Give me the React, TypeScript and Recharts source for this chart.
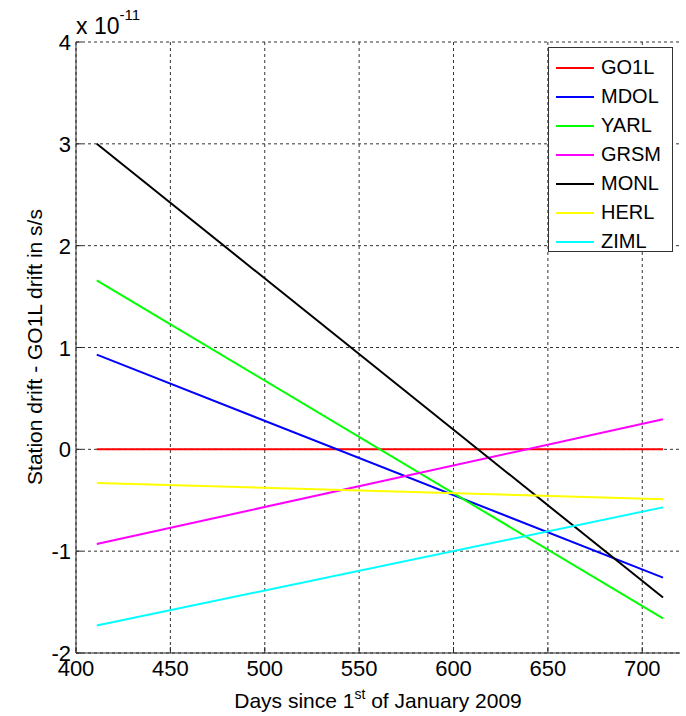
import { LineChart, Line, XAxis, YAxis, CartesianGrid, Legend } from 'recharts'

// values in units of 1e-11 s/s
const days = [411, 711]
const GO1L = [0, 0]
const MDOL = [0.93, -1.26]
const YARL = [1.66, -1.66]
const GRSM = [-0.93, 0.295]
const MONL = [3.0, -1.455]
const HERL = [-0.33, -0.49]
const ZIML = [-1.73, -0.57]

const xTicks = [400, 450, 500, 550, 600, 650, 700]
const yTicks = [-2, -1, 0, 1, 2, 3, 4]

const series = [
  { name: 'GO1L', values: GO1L, color: '#ff0000' },
  { name: 'MDOL', values: MDOL, color: '#0000ff' },
  { name: 'YARL', values: YARL, color: '#00ff00' },
  { name: 'GRSM', values: GRSM, color: '#ff00ff' },
  { name: 'MONL', values: MONL, color: '#000000' },
  { name: 'HERL', values: HERL, color: '#ffff00' },
  { name: 'ZIML', values: ZIML, color: '#00ffff' },
]

const data = days.map((day, i) => {
  const row: any = { day }
  series.forEach(s => { row[s.name] = s.values[i] })
  return row
})

const FONT = '"Liberation Sans", Arial, sans-serif'
const AX = '#262626'

const XTick = (p: any) => (
  <g>
    <line x1={p.x} x2={p.x} y1={p.y} y2={p.y - 6} stroke={AX} />
    <text x={p.x} y={p.y + 23} textAnchor="middle" fontSize={22} fontFamily={FONT} fill="#000">{p.payload.value}</text>
  </g>
)
const YTick = (p: any) => (
  <g>
    <line x1={p.x} x2={p.x + 6} y1={p.y} y2={p.y} stroke={AX} />
    <text x={p.x - 5} y={p.y + 8} textAnchor="end" fontSize={22} fontFamily={FONT} fill="#000">{p.payload.value}</text>
  </g>
)
const TopTick = (p: any) => <line x1={p.x} x2={p.x} y1={p.y} y2={p.y + 6} stroke={AX} />
const RightTick = (p: any) => <line x1={p.x} x2={p.x - 6} y1={p.y} y2={p.y} stroke={AX} />

const LegendBox = () => (
  <div style={{ width: 125, height: 205, border: '1px solid #333', background: '#fff', fontFamily: FONT, fontSize: 20, boxSizing: 'border-box', paddingTop: 5 }}>
    {series.map(s => (
      <div key={s.name} style={{ display: 'flex', alignItems: 'center', height: 29 }}>
        <div style={{ width: 38, height: 2, background: s.color, marginLeft: 7, marginRight: 7 }} />
        <span style={{ color: '#000' }}>{s.name}</span>
      </div>
    ))}
  </div>
)

export default function App() {
  return (
    <div style={{ position: 'absolute', left: 0, top: 0, width: 686, height: 716, background: '#fff' }}>
      <LineChart width={686} height={716} data={data} margin={{ top: 42, right: 6, left: 0, bottom: 0 }}>
        <CartesianGrid stroke="#333" strokeDasharray="3 3" horizontalValues={yTicks} verticalValues={xTicks} />
        <XAxis dataKey="day" type="number" domain={[400, 720]} ticks={xTicks} allowDataOverflow height={63}
          axisLine={{ stroke: AX }} tickLine={false} tickSize={0} tickMargin={0} tick={XTick} interval={0}
          label={{ content: () => (
            <g>
              <text x={378} y={708} textAnchor="middle" fontSize={21} fontFamily={FONT} fill="#000">
                Days since 1<tspan fontSize={14} dy={-9}>st</tspan><tspan dy={9}> of January 2009</tspan>
              </text>
              <text x={76} y={34} fontSize={23} fontFamily={FONT} fill="#000">
                x 10<tspan fontSize={15} dy={-14}>-11</tspan>
              </text>
            </g>
          ) }} />
        <XAxis xAxisId="top" orientation="top" type="number" domain={[400, 720]} ticks={xTicks} allowDataOverflow height={0}
          axisLine={{ stroke: AX }} tickLine={false} tickSize={0} tickMargin={0} tick={TopTick} interval={0} />
        <YAxis type="number" domain={[-2, 4]} ticks={yTicks} allowDataOverflow width={76}
          axisLine={{ stroke: AX }} tickLine={false} tickSize={0} tickMargin={0} tick={YTick} interval={0}
          label={{ content: () => (
            <text x={42} y={347} transform="rotate(-90 42 347)" textAnchor="middle" fontSize={21} fontFamily={FONT} fill="#000">
              Station drift - GO1L drift in s/s
            </text>
          ) }} />
        <YAxis yAxisId="right" orientation="right" type="number" domain={[-2, 4]} ticks={yTicks} allowDataOverflow width={0}
          axisLine={{ stroke: AX }} tickLine={false} tickSize={0} tickMargin={0} tick={RightTick} interval={0} />
        {series.map(s => (
          <Line key={s.name} dataKey={s.name} stroke={s.color} strokeWidth={2} dot={false} isAnimationActive={false} />
        ))}
        <Legend layout="horizontal" verticalAlign="middle" content={LegendBox}
          wrapperStyle={{ left: 548, top: 47, width: 125, height: 205 }} />
      </LineChart>
    </div>
  )
}
